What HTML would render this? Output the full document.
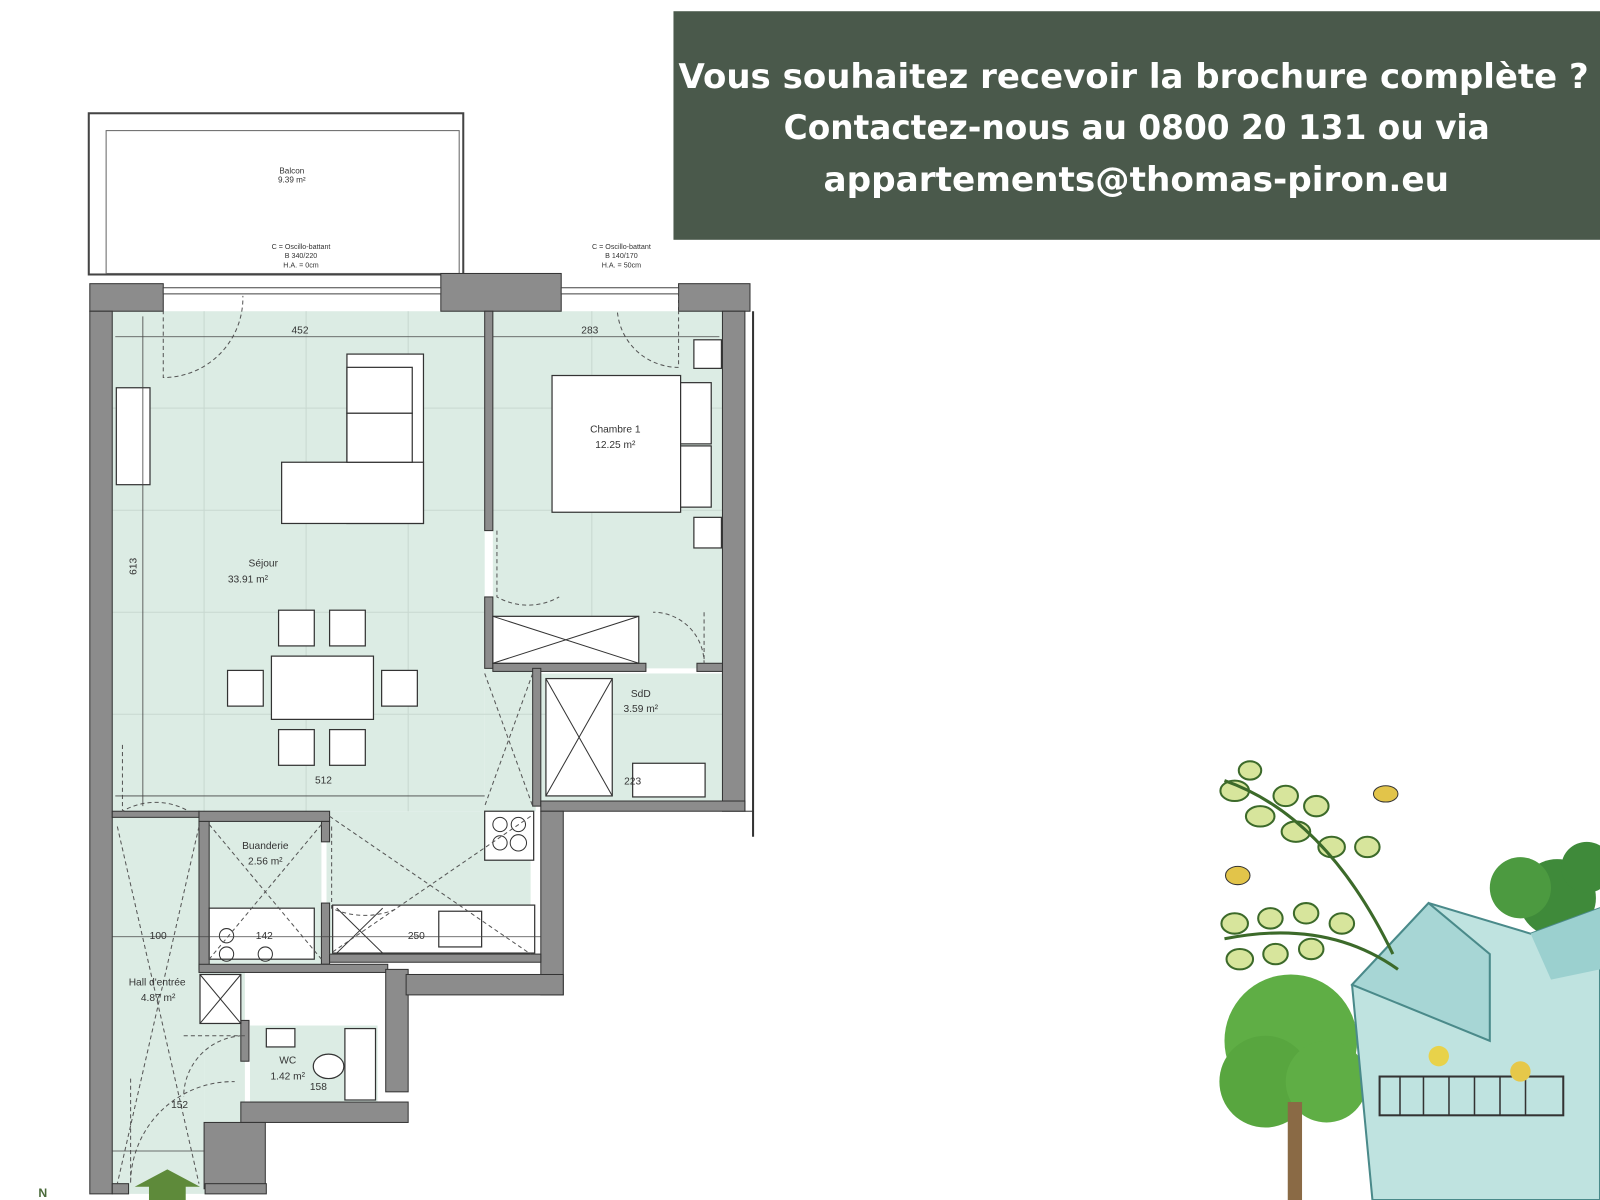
<!DOCTYPE html>
<html><head><meta charset="utf-8">
<style>
html,body{margin:0;padding:0;background:#fff;width:1600px;height:1200px;overflow:hidden}
svg{display:block}
.t{font-family:"Liberation Sans",sans-serif;fill:#333}
</style></head><body>
<svg width="1600" height="1200" viewBox="0 0 1568 1176" xmlns="http://www.w3.org/2000/svg">
<!-- banner -->
<rect x="660" y="11" width="908" height="224" fill="#4a594b"/>
<g font-family="DejaVu Sans,Liberation Sans,sans-serif" font-weight="bold" font-size="33" fill="#fff">
<text x="665" y="86" textLength="892" lengthAdjust="spacingAndGlyphs">Vous souhaitez recevoir la brochure complète ?</text>
<text x="768" y="136" textLength="692" lengthAdjust="spacingAndGlyphs">Contactez-nous au 0800 20 131 ou via</text>
<text x="807" y="187" textLength="613" lengthAdjust="spacingAndGlyphs">appartements@thomas-piron.eu</text>
</g>

<!-- balcony -->
<rect x="87" y="111" width="367" height="158" fill="#fff" stroke="#444" stroke-width="2"/>
<rect x="104" y="128" width="346" height="140" fill="#fff" stroke="#666" stroke-width="1"/>
<text class="t" x="286" y="170" font-size="8" text-anchor="middle">Balcon</text>
<text class="t" x="286" y="179" font-size="8" text-anchor="middle">9.39 m²</text>
<text class="t" x="295" y="244" font-size="7" text-anchor="middle">C = Oscillo-battant</text>
<text class="t" x="295" y="253" font-size="7" text-anchor="middle">B 340/220</text>
<text class="t" x="295" y="262" font-size="7" text-anchor="middle">H.A. = 0cm</text>
<text class="t" x="609" y="244" font-size="7" text-anchor="middle">C = Oscillo-battant</text>
<text class="t" x="609" y="253" font-size="7" text-anchor="middle">B 140/170</text>
<text class="t" x="609" y="262" font-size="7" text-anchor="middle">H.A. = 50cm</text>

<!-- room fills -->
<g fill="#dcece4">
<rect x="110" y="305" width="365" height="490"/>
<rect x="483" y="305" width="225" height="350"/>
<rect x="475" y="655" width="50" height="140"/>
<rect x="530" y="660" width="178" height="125"/>
<rect x="110" y="795" width="90" height="370"/>
<rect x="320" y="795" width="200" height="145"/>
<rect x="205" y="805" width="110" height="140"/>
<rect x="200" y="945" width="40" height="220"/>
<rect x="245" y="1005" width="125" height="75"/>
<rect x="126" y="1140" width="75" height="30"/>
</g>
<g stroke="#c8d8d0" stroke-width="1">
<line x1="110" y1="400" x2="708" y2="400"/><line x1="110" y1="500" x2="708" y2="500"/>
<line x1="110" y1="600" x2="475" y2="600"/><line x1="110" y1="700" x2="708" y2="700"/>
<line x1="200" y1="305" x2="200" y2="795"/><line x1="300" y1="305" x2="300" y2="795"/>
<line x1="400" y1="305" x2="400" y2="795"/><line x1="580" y1="305" x2="580" y2="655"/>
</g>

<!-- walls -->
<g fill="#8c8c8c" stroke="#333" stroke-width="1">
<rect x="88" y="278" width="72" height="27"/>
<rect x="432" y="268" width="118" height="37"/>
<rect x="665" y="278" width="70" height="27"/>
<rect x="88" y="305" width="22" height="865"/>
<rect x="708" y="305" width="22" height="490"/>
<rect x="475" y="305" width="8" height="215"/>
<rect x="475" y="585" width="8" height="70"/>
<rect x="483" y="650" width="150" height="8"/>
<rect x="683" y="650" width="25" height="8"/>
<rect x="522" y="655" width="8" height="135"/>
<rect x="530" y="785" width="200" height="10"/>
<rect x="530" y="795" width="22" height="180"/>
<rect x="110" y="795" width="85" height="6"/>
<rect x="195" y="795" width="128" height="10"/>
<rect x="195" y="805" width="10" height="145"/>
<rect x="315" y="805" width="8" height="20"/>
<rect x="315" y="885" width="8" height="60"/>
<rect x="323" y="935" width="207" height="8"/>
<rect x="195" y="945" width="185" height="8"/>
<rect x="378" y="950" width="22" height="120"/>
<rect x="398" y="955" width="154" height="20"/>
<rect x="236" y="1000" width="8" height="40"/>
<rect x="236" y="1080" width="164" height="20"/>
<rect x="200" y="1100" width="60" height="65"/>
<rect x="110" y="1160" width="16" height="10"/>
<rect x="201" y="1160" width="60" height="10"/>
</g>
<line x1="738" y1="305" x2="738" y2="820" stroke="#333" stroke-width="2"/>
<line x1="730" y1="795" x2="738" y2="795" stroke="#333"/>
<rect x="160" y="282" width="272" height="6" fill="#fff" stroke="#444"/>
<rect x="550" y="282" width="115" height="6" fill="#fff" stroke="#444"/>

<!-- furniture -->
<g fill="#fff" stroke="#333" stroke-width="1.2">
<rect x="114" y="380" width="33" height="95"/>
<rect x="340" y="347" width="75" height="166"/>
<rect x="276" y="453" width="139" height="60"/>
<rect x="340" y="360" width="64" height="45"/><rect x="340" y="405" width="64" height="48"/>
<rect x="273" y="598" width="35" height="35"/><rect x="323" y="598" width="35" height="35"/>
<rect x="266" y="643" width="100" height="62"/>
<rect x="223" y="657" width="35" height="35"/><rect x="374" y="657" width="35" height="35"/>
<rect x="273" y="715" width="35" height="35"/><rect x="323" y="715" width="35" height="35"/>
<rect x="541" y="368" width="126" height="134"/>
<rect x="667" y="375" width="30" height="60"/><rect x="667" y="437" width="30" height="60"/>
<rect x="680" y="333" width="27" height="28"/><rect x="680" y="507" width="27" height="30"/>
<rect x="483" y="604" width="143" height="46"/>
<rect x="535" y="665" width="65" height="115"/>
<rect x="620" y="748" width="71" height="33"/>
<rect x="475" y="795" width="48" height="48"/>
<rect x="326" y="887" width="198" height="47"/>
<rect x="430" y="893" width="42" height="35"/>
<rect x="205" y="890" width="103" height="50"/>
<rect x="196" y="955" width="40" height="48"/>
<rect x="338" y="1008" width="30" height="70"/>
<rect x="261" y="1008" width="28" height="18"/>
<ellipse cx="322" cy="1045" rx="15" ry="12"/>
</g>
<g stroke="#333" stroke-width="1" fill="none">
<line x1="483" y1="604" x2="626" y2="650"/><line x1="483" y1="650" x2="626" y2="604"/>
<line x1="196" y1="955" x2="236" y2="1003"/><line x1="196" y1="1003" x2="236" y2="955"/>
<line x1="330" y1="890" x2="375" y2="934"/><line x1="330" y1="934" x2="375" y2="890"/>
<line x1="535" y1="665" x2="600" y2="780"/><line x1="535" y1="780" x2="600" y2="665"/>
<circle cx="490" cy="808" r="7"/><circle cx="508" cy="808" r="7"/><circle cx="490" cy="826" r="7"/><circle cx="508" cy="826" r="8"/>
<circle cx="222" cy="917" r="7"/><circle cx="222" cy="935" r="7"/><circle cx="260" cy="935" r="7"/>
</g>
<g stroke="#555" stroke-width="1" fill="none" stroke-dasharray="4,3">
<path d="M160 290 L160 370 A78 78 0 0 0 238 290"/>
<path d="M665 290 L665 360 A60 60 0 0 1 605 305"/>
<path d="M487 520 L487 585 A62 62 0 0 0 548 585"/>
<path d="M690 600 L690 650 A50 50 0 0 0 640 600"/>
<path d="M120 730 L120 795 A65 65 0 0 1 185 795"/>
<path d="M325 810 L325 890 A78 78 0 0 0 390 890"/>
<path d="M180 1015 L240 1015 A60 60 0 0 0 180 1075"/>
<path d="M128 1057 L128 1160 A100 100 0 0 1 230 1060"/>
<line x1="115" y1="810" x2="195" y2="1160"/><line x1="195" y1="810" x2="115" y2="1160"/>
<line x1="323" y1="800" x2="520" y2="935"/><line x1="520" y1="800" x2="323" y2="935"/>
<line x1="475" y1="660" x2="522" y2="790"/><line x1="522" y1="660" x2="475" y2="790"/>
<line x1="205" y1="808" x2="315" y2="940"/><line x1="315" y1="808" x2="205" y2="940"/>
</g>
<g stroke="#444" stroke-width="0.8">
<line x1="113" y1="330" x2="475" y2="330"/><line x1="483" y1="330" x2="705" y2="330"/>
<line x1="113" y1="780" x2="475" y2="780"/><line x1="140" y1="310" x2="140" y2="790"/>
<line x1="110" y1="918" x2="530" y2="918"/><line x1="110" y1="1128" x2="200" y2="1128"/>
</g>
<g class="t" font-size="10" text-anchor="middle">
<text x="294" y="327">452</text><text x="578" y="327">283</text><text x="317" y="768">512</text>
<text x="134" y="555" transform="rotate(-90 134 555)">613</text>
<text x="258" y="555">Séjour</text><text x="243" y="571">33.91 m²</text>
<text x="603" y="424">Chambre 1</text><text x="603" y="439">12.25 m²</text>
<text x="628" y="683">SdD</text><text x="628" y="698">3.59 m²</text>
<text x="620" y="769">223</text>
<text x="260" y="832">Buanderie</text><text x="260" y="847">2.56 m²</text>
<text x="154" y="966">Hall d'entrée</text><text x="155" y="981">4.87 m²</text>
<text x="282" y="1042">WC</text><text x="282" y="1058">1.42 m²</text>
<text x="155" y="920">100</text><text x="408" y="920">250</text><text x="259" y="920">142</text>
<text x="176" y="1086">152</text><text x="312" y="1068">158</text>
<text x="42" y="1173" font-size="12" font-weight="bold" fill="#4a6a3a">N</text>
</g>
<polygon points="132,1163 164,1146 196,1163 182,1163 182,1176 146,1176 146,1163" fill="#5e8a3a"/>

<!-- illustration -->
<g>
<circle cx="1526" cy="880" r="38" fill="#3f8a3a"/>
<circle cx="1490" cy="870" r="30" fill="#4c9a40"/>
<circle cx="1555" cy="850" r="25" fill="#3f8a3a"/>
<circle cx="1265" cy="1020" r="65" fill="#5fae45"/>
<circle cx="1240" cy="1060" r="45" fill="#58a63f"/>
<circle cx="1300" cy="1060" r="40" fill="#5fae45"/>
<rect x="1262" y="1080" width="14" height="96" fill="#8a6a45"/>
<polygon points="1325,965 1400,885 1500,915 1568,890 1568,1176 1345,1176" fill="#bfe3e0" stroke="#4a8a8a" stroke-width="2"/>
<polygon points="1400,885 1460,935 1460,1020 1325,965" fill="#a7d6d5" stroke="#4a8a8a" stroke-width="2"/>
<polygon points="1500,915 1568,890 1568,950 1520,960" fill="#9bd0cf"/>
<rect x="1352" y="1055" width="180" height="38" fill="none" stroke="#333" stroke-width="2"/>
<g stroke="#333" stroke-width="1.5">
<line x1="1372" y1="1055" x2="1372" y2="1093"/><line x1="1395" y1="1055" x2="1395" y2="1093"/>
<line x1="1420" y1="1055" x2="1420" y2="1093"/><line x1="1445" y1="1055" x2="1445" y2="1093"/>
<line x1="1470" y1="1055" x2="1470" y2="1093"/><line x1="1495" y1="1055" x2="1495" y2="1093"/>
</g>
<circle cx="1410" cy="1035" r="10" fill="#e8d24a"/>
<circle cx="1490" cy="1050" r="10" fill="#e6c84a"/>
<g fill="#d7e59c" stroke="#3c6a2a" stroke-width="2">
<ellipse cx="1210" cy="775" rx="14" ry="10"/><ellipse cx="1235" cy="800" rx="14" ry="10"/>
<ellipse cx="1260" cy="780" rx="12" ry="10"/><ellipse cx="1270" cy="815" rx="14" ry="10"/>
<ellipse cx="1290" cy="790" rx="12" ry="10"/><ellipse cx="1305" cy="830" rx="13" ry="10"/>
<ellipse cx="1225" cy="755" rx="11" ry="9"/><ellipse cx="1340" cy="830" rx="12" ry="10"/>
<ellipse cx="1210" cy="905" rx="13" ry="10"/><ellipse cx="1245" cy="900" rx="12" ry="10"/>
<ellipse cx="1280" cy="895" rx="12" ry="10"/><ellipse cx="1315" cy="905" rx="12" ry="10"/>
<ellipse cx="1215" cy="940" rx="13" ry="10"/><ellipse cx="1250" cy="935" rx="12" ry="10"/>
<ellipse cx="1285" cy="930" rx="12" ry="10"/>
</g>
<g stroke="#3c6a2a" stroke-width="3" fill="none">
<path d="M1200 765 Q1300 800 1365 935"/><path d="M1200 920 Q1300 900 1370 950"/>
</g>
<ellipse cx="1358" cy="778" rx="12" ry="8" fill="#e2c44a" stroke="#333"/>
<ellipse cx="1213" cy="858" rx="12" ry="9" fill="#e2c44a" stroke="#333"/>
</g>
</svg>
</body></html>
